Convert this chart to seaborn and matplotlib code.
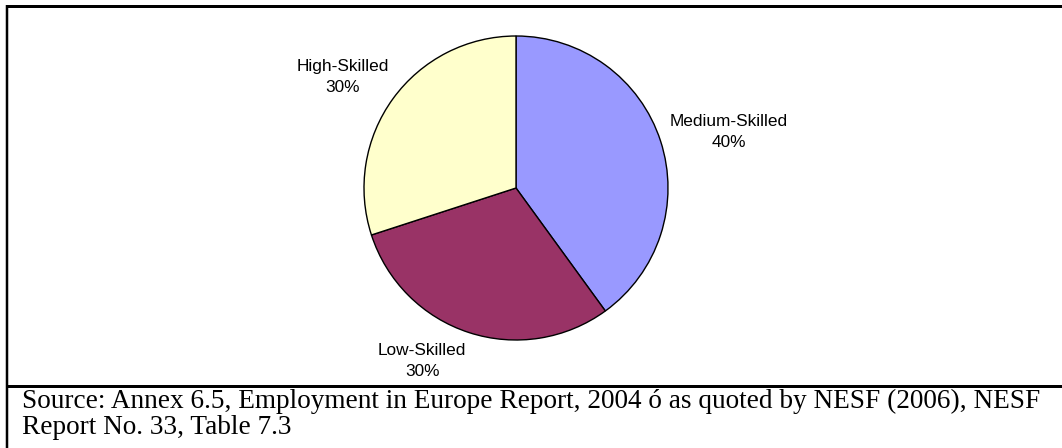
import matplotlib
matplotlib.use("Agg")
import matplotlib.pyplot as plt
from matplotlib.lines import Line2D
import seaborn as sns

# ---- data ----
categories = ["Medium-Skilled", "Low-Skilled", "High-Skilled"]
shares = [40, 30, 30]
colors = ["#9999FF", "#993366", "#FFFFCC"]
source_lines = [
    "Source: Annex 6.5, Employment in Europe Report, 2004 \u00f3 as quoted by NESF (2006), NESF",
    "Report No. 33, Table 7.3",
]

sns.set_theme(style="white")
plt.rcParams["font.family"] = ["Liberation Sans", "DejaVu Sans"]

W, H = 1062, 448
fig = plt.figure(figsize=(W / 100, H / 100), dpi=100)
fig.patch.set_facecolor("white")

# pie box in pixels
cx, cy, rx, ry = 516, 188, 152, 152
ax = fig.add_axes([(cx - rx) / W, (H - (cy + ry)) / H, 2 * rx / W, 2 * ry / H])
wedges, _ = ax.pie(shares, colors=colors, startangle=90, counterclock=False,
                   wedgeprops=dict(edgecolor="black", linewidth=1.0))
ax.set_aspect("auto")
ax.set_xlim(-1, 1)
ax.set_ylim(-1, 1)
ax.axis("off")
for w in wedges:
    w.set_clip_on(False)

label_pos = {"Medium-Skilled": (1.40, 0.37),
             "Low-Skilled": (-0.618, -1.14),
             "High-Skilled": (-1.138, 0.73)}
for cat, val in zip(categories, shares):
    x, y = label_pos[cat]
    ax.text(x, y, f"{cat}\n{val}%", ha="center", va="center", fontsize=12.4,
            linespacing=1.5, color="black", clip_on=False)

# frame lines (figure pixel coordinates)
def px_line(x0, y0, x1, y1, lw):
    fig.add_artist(Line2D([x0 / W, x1 / W], [1 - y0 / H, 1 - y1 / H],
                          transform=fig.transFigure, color="black",
                          linewidth=lw * 0.72, solid_capstyle="butt"))

px_line(6, 6.5, W, 6.5, 3)
px_line(7, 5, 7, H, 2.5)
px_line(6, 386, W, 386, 3)

for line, base in zip(source_lines, [408, 434]):
    fig.text(22 / W, 1 - base / H, line, ha="left", va="baseline",
             fontsize=19.6, family=["Liberation Serif", "DejaVu Serif"], color="black")

fig.savefig("out.png", dpi=100, facecolor="white")
